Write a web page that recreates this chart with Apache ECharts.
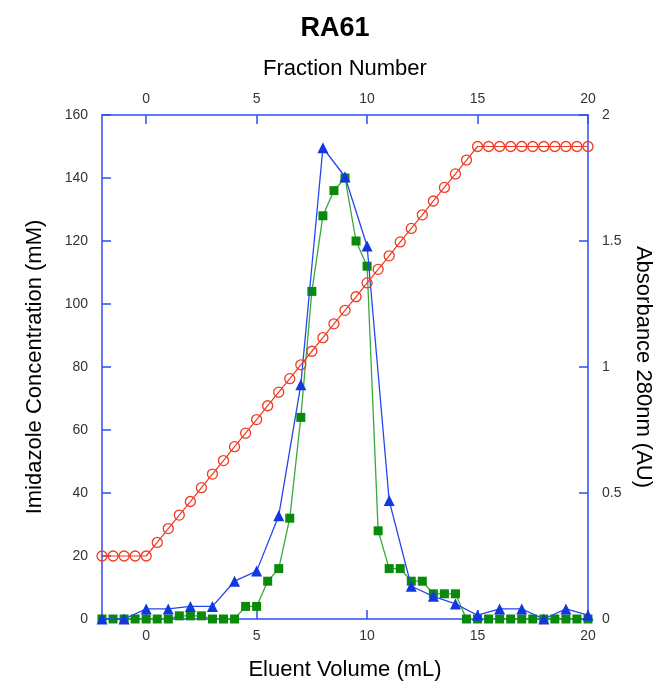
<!DOCTYPE html>
<html>
<head>
<meta charset="utf-8">
<script src="https://cdn.jsdelivr.net/npm/echarts@6/dist/echarts.min.js"></script>
<style>
html,body{margin:0;padding:0;background:#fff;}
#c{width:670px;height:690px;}
</style>
</head>
<body>
<div id="c"></div>
<script>
// Imidazole gradient (mM) vs eluent volume (mL)
const redVolume = [-2,-1.5,-1,-0.5,0,0.5,1,1.5,2,2.5,3,3.5,4,4.5,5,5.5,6,6.5,7,7.5,8,8.5,9,9.5,10,10.5,11,11.5,12,12.5,13,13.5,14,14.5,15,15.5,16,16.5,17,17.5,18,18.5,19,19.5,20];
const redConc = [20,20,20,20,20,24.3,28.7,33,37.3,41.7,46,50.3,54.7,59,63.3,67.7,72,76.3,80.7,85,89.3,93.7,98,102.3,106.7,111,115.3,119.7,124,128.3,132.7,137,141.3,145.7,150,150,150,150,150,150,150,150,150,150,150];

// Green squares: absorbance (AU)
const greenVolume = [-2,-1.5,-1,-0.5,0,0.5,1,1.5,2,2.5,3,3.5,4,4.5,5,5.5,6,6.5,7,7.5,8,8.5,9,9.5,10,10.5,11,11.5,12,12.5,13,13.5,14,14.5,15,15.5,16,16.5,17,17.5,18,18.5,19,19.5,20];
const greenAbs = [0,0,0,0,0,0,0,0.0125,0.0125,0.0125,0,0,0,0.05,0.05,0.15,0.2,0.4,0.8,1.3,1.6,1.7,1.75,1.5,1.4,0.35,0.2,0.2,0.15,0.15,0.1,0.1,0.1,0,0,0,0,0,0,0,0,0,0,0,0];

// Blue triangles: absorbance (AU)
const blueVolume = [-2,-1,0,1,2,3,4,5,6,7,8,9,10,11,12,13,14,15,16,17,18,19,20];
const blueAbs = [0,0,0.04,0.04,0.05,0.05,0.15,0.19,0.41,0.93,1.87,1.755,1.48,0.47,0.13,0.09,0.06,0.015,0.04,0.04,0,0.04,0.015];

const xTicks = [0,5,10,15,20];

const axisBlue = '#2f4ef2';
const font = 'Liberation Sans, Arial, Helvetica, sans-serif';

const zip = (a,b) => a.map((v,i)=>[v,b[i]]);

const chart = echarts.init(document.getElementById('c'), null, {renderer:'canvas'});
chart.setOption({
  animation:false,
  backgroundColor:'#fff',
  title:{text:'RA61', left:'center', top:10, textStyle:{fontFamily:font, fontSize:27, fontWeight:'bold', color:'#000'}},
  grid:{left:102, right:82, top:115, bottom:71},
  xAxis:[
    {type:'value', position:'bottom', min:-2, max:20,
     name:'Eluent Volume (mL)', nameLocation:'middle', nameGap:40,
     nameTextStyle:{fontFamily:font, fontSize:22, color:'#000'},
     axisLine:{show:true, onZero:false, lineStyle:{color:axisBlue, width:1.5}},
     axisTick:{show:true, inside:true, length:9, customValues:xTicks, lineStyle:{color:axisBlue, width:1.5}},
     axisLabel:{customValues:xTicks, fontFamily:font, fontSize:14, color:'#333', margin:10},
     splitLine:{show:false}},
    {type:'value', position:'top', min:-2, max:20,
     name:'Fraction Number', nameLocation:'middle', nameGap:35,
     nameTextStyle:{fontFamily:font, fontSize:22, color:'#000'},
     axisLine:{show:true, onZero:false, lineStyle:{color:axisBlue, width:1.5}},
     axisTick:{show:true, inside:true, length:9, customValues:xTicks, lineStyle:{color:axisBlue, width:1.5}},
     axisLabel:{customValues:xTicks, fontFamily:font, fontSize:14, color:'#333', margin:9},
     splitLine:{show:false}}
  ],
  yAxis:[
    {type:'value', position:'left', min:0, max:160, interval:20,
     name:'Imidazole Concentration (mM)', nameLocation:'middle', nameGap:56, nameRotate:90,
     nameTextStyle:{fontFamily:font, fontSize:22, color:'#000'},
     axisLine:{show:true, onZero:false, lineStyle:{color:axisBlue, width:1.5}},
     axisTick:{show:true, inside:true, length:9, lineStyle:{color:axisBlue, width:1.5}},
     axisLabel:{fontFamily:font, fontSize:14, color:'#333', margin:14},
     splitLine:{show:false}},
    {type:'value', position:'right', min:0, max:2, interval:0.5,
     name:'Absorbance 280nm (AU)', nameLocation:'middle', nameGap:42, nameRotate:-90,
     nameTextStyle:{fontFamily:font, fontSize:22, color:'#000'},
     axisLine:{show:true, onZero:false, lineStyle:{color:axisBlue, width:1.5}},
     axisTick:{show:true, inside:true, length:9, lineStyle:{color:axisBlue, width:1.5}},
     axisLabel:{fontFamily:font, fontSize:14, color:'#333', margin:14},
     splitLine:{show:false}}
  ],
  series:[
    {type:'line', name:'green', xAxisIndex:0, yAxisIndex:1, data:zip(greenVolume, greenAbs),
     symbol:'rect', symbolSize:9, showAllSymbol:true,
     lineStyle:{color:'#3aa83a', width:1.3},
     itemStyle:{color:'#0a8a0a'}, z:2},
    {type:'line', name:'blue', xAxisIndex:0, yAxisIndex:1, data:zip(blueVolume, blueAbs),
     symbol:'triangle', symbolSize:11, showAllSymbol:true,
     lineStyle:{color:'#2546ee', width:1.3},
     itemStyle:{color:'#1236e0'}, z:3},
    {type:'line', name:'red', xAxisIndex:0, yAxisIndex:0, data:zip(redVolume, redConc),
     symbol:'circle', symbolSize:10, showAllSymbol:true,
     lineStyle:{color:'#f03a24', width:1.2},
     itemStyle:{color:'rgba(0,0,0,0)', borderColor:'#f03a24', borderWidth:1.3}, z:4}
  ]
});
</script>
</body>
</html>
